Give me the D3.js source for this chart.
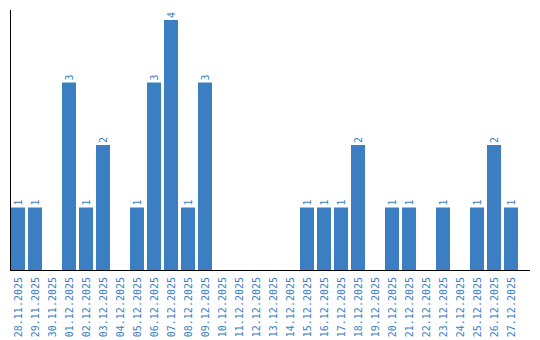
<!DOCTYPE html>
<html>
<head>
<meta charset="utf-8">
<script src="https://cdn.jsdelivr.net/npm/d3@7"></script>
<style>
  body { margin: 0; background: #fff; }
  text { font-family: "DejaVu Sans Mono", monospace; font-size: 10px; fill: #3b7ec2; }
</style>
</head>
<body>
<div id="chart"></div>
<script>
// dates and counts
const dates = [
  "28.11.2025", "29.11.2025", "30.11.2025", "01.12.2025", "02.12.2025",
  "03.12.2025", "04.12.2025", "05.12.2025", "06.12.2025", "07.12.2025",
  "08.12.2025", "09.12.2025", "10.12.2025", "11.12.2025", "12.12.2025",
  "13.12.2025", "14.12.2025", "15.12.2025", "16.12.2025", "17.12.2025",
  "18.12.2025", "19.12.2025", "20.12.2025", "21.12.2025", "22.12.2025",
  "23.12.2025", "24.12.2025", "25.12.2025", "26.12.2025", "27.12.2025"
];
const counts = [1, 1, 0, 3, 1, 2, 0, 1, 3, 4, 1, 3, 0, 0, 0, 0, 0, 1, 1, 1, 2, 0, 1, 1, 0, 1, 0, 1, 2, 1];

const width = 540, height = 340;
const barColor = "#3b7ec2";

const svg = d3.select("#chart").append("svg")
  .attr("width", width)
  .attr("height", height);

const x = d3.scaleBand()
  .domain(dates)
  .range([11, 518])
  .paddingInner(3 / 17);

const y = d3.scaleLinear()
  .domain([0, d3.max(counts)])
  .range([270, 20]);

const data = dates.map((d, i) => ({ date: d, value: counts[i] }));

svg.selectAll("rect.bar")
  .data(data.filter(d => d.value > 0))
  .enter().append("rect")
  .attr("class", "bar")
  .attr("x", d => x(d.date))
  .attr("y", d => y(d.value))
  .attr("width", x.bandwidth())
  .attr("height", d => y(0) - y(d.value))
  .attr("fill", barColor);

// value labels above the bars, rotated
svg.selectAll("text.val")
  .data(data.filter(d => d.value > 0))
  .enter().append("text")
  .attr("class", "val")
  .attr("transform", d => `translate(${x(d.date) + x.bandwidth() / 2 + 3.5},${y(d.value) - 2}) rotate(-90)`)
  .text(d => d.value);

// date labels under the axis
svg.selectAll("text.date")
  .data(dates)
  .enter().append("text")
  .attr("class", "date")
  .attr("text-anchor", "end")
  .attr("transform", d => `translate(${x(d) + x.bandwidth() / 2 + 3.5},277) rotate(-90)`)
  .text(d => d);

// axes lines
svg.append("line")
  .attr("x1", 10.5).attr("x2", 10.5)
  .attr("y1", 10).attr("y2", 271)
  .attr("stroke", "#000");
svg.append("line")
  .attr("x1", 10).attr("x2", 530)
  .attr("y1", 270.5).attr("y2", 270.5)
  .attr("stroke", "#000");
</script>
</body>
</html>
